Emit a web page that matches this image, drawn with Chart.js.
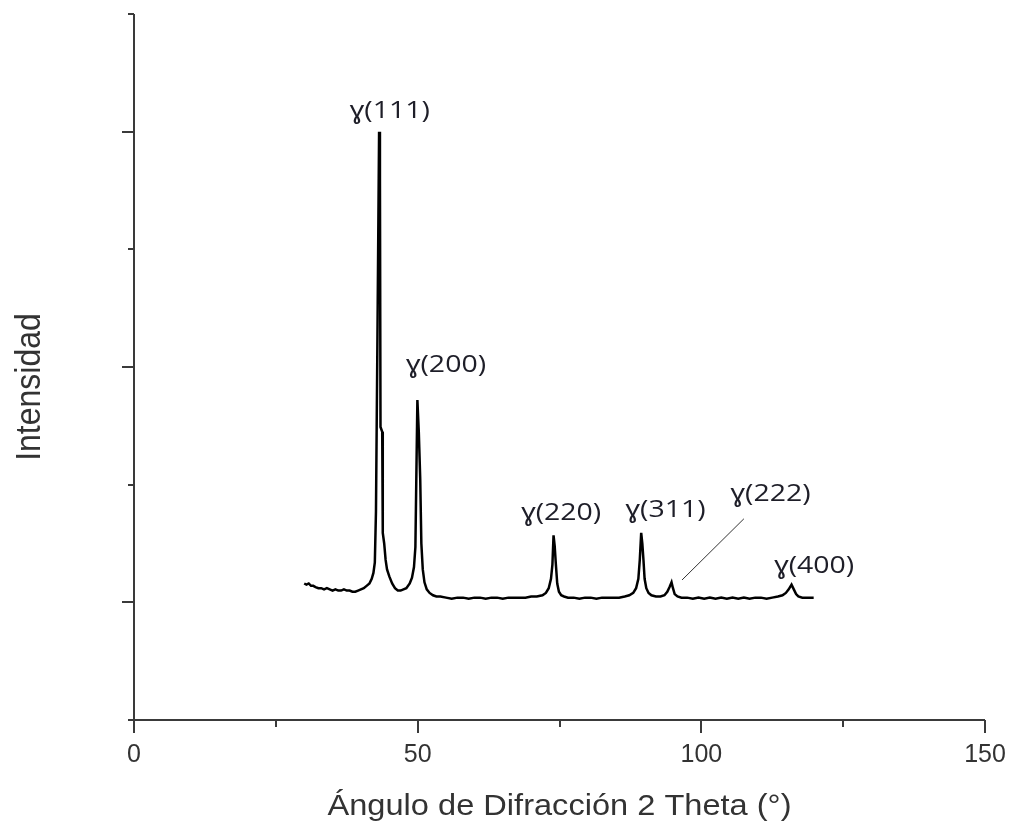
<!DOCTYPE html>
<html>
<head>
<meta charset="utf-8">
<script src="https://cdn.jsdelivr.net/npm/chart.js@4/dist/chart.umd.min.js"></script>
<style>
html,body{margin:0;padding:0;background:#ffffff;}
#wrap{width:1009px;height:825px;position:relative;}
</style>
</head>
<body>
<div id="wrap"><canvas id="c" width="1009" height="825"></canvas></div>
<script>
// ---- data ----
const angles = [
  30.0,30.4,30.8,31.2,31.6,32.0,32.5,33.0,33.5,34.0,34.5,35.0,35.5,36.0,36.5,37.0,37.5,38.0,38.5,39.0,39.5,40.0,40.5,41.0,41.5,41.9,42.2,42.45,42.65,42.9,43.2,43.35,43.45,43.75,43.85,44.1,44.35,44.6,45.0,45.5,46.0,46.5,47.0,47.5,48.0,48.6,49.0,49.35,49.6,49.75,49.95,50.2,50.45,50.65,50.9,51.2,51.6,52.1,52.7,53.3,54.0,55.0,56.0,57.0,58.0,59.0,60.0,61.0,62.0,63.0,64.0,65.0,66.0,67.0,68.0,69.0,70.0,71.0,72.0,72.6,73.1,73.5,73.75,73.95,74.15,74.35,74.6,74.9,75.3,75.8,76.5,77.5,78.5,79.5,80.5,81.5,82.5,83.5,84.5,85.5,86.5,87.3,88.0,88.5,88.9,89.15,89.4,89.6,89.8,90.0,90.3,90.7,91.2,92.0,92.8,93.5,94.0,94.4,94.75,95.0,95.3,95.8,96.5,97.5,98.5,99.5,100.5,101.5,102.5,103.5,104.5,105.5,106.5,107.5,108.5,109.5,110.5,111.5,112.5,113.5,114.3,114.9,115.4,115.9,116.3,116.7,117.1,117.8,118.5,119.2,119.8
];
const intensity = [
  1.16,1.15,1.16,1.14,1.14,1.13,1.12,1.12,1.11,1.12,1.11,1.10,1.11,1.10,1.10,1.11,1.10,1.10,1.09,1.09,1.10,1.11,1.12,1.14,1.16,1.20,1.25,1.34,1.77,3.20,5.00,4.60,2.49,2.45,1.59,1.50,1.36,1.28,1.22,1.16,1.12,1.10,1.10,1.11,1.12,1.16,1.21,1.30,1.47,2.01,2.72,2.45,2.05,1.50,1.28,1.17,1.11,1.08,1.06,1.05,1.05,1.04,1.03,1.04,1.04,1.03,1.04,1.04,1.03,1.04,1.04,1.03,1.04,1.04,1.04,1.04,1.05,1.05,1.06,1.08,1.12,1.20,1.32,1.57,1.48,1.33,1.16,1.09,1.06,1.05,1.04,1.04,1.03,1.04,1.04,1.03,1.04,1.04,1.04,1.04,1.05,1.06,1.08,1.12,1.20,1.36,1.59,1.50,1.36,1.20,1.12,1.08,1.06,1.05,1.05,1.06,1.09,1.13,1.17,1.12,1.07,1.05,1.04,1.04,1.03,1.04,1.03,1.04,1.03,1.04,1.03,1.04,1.03,1.04,1.03,1.04,1.04,1.03,1.04,1.05,1.06,1.08,1.11,1.15,1.11,1.07,1.05,1.04,1.04,1.04,1.04
];
const peakLabels = ['\u0263(111)','\u0263(200)','\u0263(220)','\u0263(311)','\u0263(222)','\u0263(400)'];
const peakLabelX = [45.1, 55.0, 75.3, 93.7, 112.2, 119.9];
const peakLabelY = [5.12, 2.96, 1.70, 1.725, 1.86, 1.25];
const leaderFrom = [96.6, 1.19];
const leaderTo = [107.5, 1.71];
const xMajorTicks = [0, 50, 100, 150];
const xMinorTicks = [25, 75, 125];
const yMajorTicks = [1, 3, 5];
const yMinorTicks = [0, 2, 4, 6];
const xTitle = '\u00C1ngulo de Difracci\u00F3n 2 Theta (\u00B0)';
const yTitle = 'Intensidad';

const points = angles.map((a, i) => ({x: a, y: intensity[i]}));

const decor = {
  id: 'decor',
  afterDraw(chart) {
    const {ctx, chartArea: a, scales: {x, y}} = chart;
    ctx.save();
    // axes and ticks
    ctx.strokeStyle = '#3a3a3a';
    ctx.lineWidth = 2;
    ctx.beginPath();
    ctx.moveTo(a.left, y.getPixelForValue(6));
    ctx.lineTo(a.left, a.bottom);
    ctx.moveTo(a.left, a.bottom);
    ctx.lineTo(a.right, a.bottom);
    xMajorTicks.forEach(v => { const p = Math.round(x.getPixelForValue(v)); ctx.moveTo(p, a.bottom); ctx.lineTo(p, a.bottom + 13); });
    xMinorTicks.forEach(v => { const p = Math.round(x.getPixelForValue(v)); ctx.moveTo(p, a.bottom); ctx.lineTo(p, a.bottom + 7); });
    yMajorTicks.forEach(v => { const p = Math.round(y.getPixelForValue(v)); ctx.moveTo(a.left - 12, p); ctx.lineTo(a.left, p); });
    yMinorTicks.forEach(v => { const p = Math.round(y.getPixelForValue(v)); ctx.moveTo(a.left - 6, p); ctx.lineTo(a.left, p); });
    ctx.stroke();

    // leader line for (222)
    ctx.strokeStyle = '#333333';
    ctx.lineWidth = 1;
    ctx.beginPath();
    ctx.moveTo(x.getPixelForValue(leaderFrom[0]), y.getPixelForValue(leaderFrom[1]));
    ctx.lineTo(x.getPixelForValue(leaderTo[0]), y.getPixelForValue(leaderTo[1]));
    ctx.stroke();

    // peak labels
    ctx.fillStyle = '#1e1e28';
    ctx.font = '23px "Open Sans", "Noto Sans", sans-serif';
    ctx.textAlign = 'center';
    ctx.textBaseline = 'alphabetic';
    peakLabels.forEach((t, i) => {
      const px = x.getPixelForValue(peakLabelX[i]);
      const py = y.getPixelForValue(peakLabelY[i]);
      const w = ctx.measureText(t).width;
      const sx = 80 / w;
      ctx.save();
      ctx.translate(px, py);
      ctx.scale(sx, 1);
      ctx.fillText(t, 0, 0);
      ctx.restore();
    });

    // x axis title
    ctx.fillStyle = '#333333';
    ctx.font = '30px "Liberation Sans", Arial, sans-serif';
    ctx.textAlign = 'center';
    ctx.textBaseline = 'alphabetic';
    {
      const w = ctx.measureText(xTitle).width;
      const sx = 464 / w;
      ctx.save();
      ctx.translate((a.left + a.right) / 2, 815);
      ctx.scale(sx, 1);
      ctx.fillText(xTitle, 0, 0);
      ctx.restore();
    }
    // y axis title
    ctx.font = '32px "Liberation Sans", Arial, sans-serif';
    {
      ctx.save();
      ctx.translate(40, 387);
      ctx.rotate(-Math.PI / 2);
      ctx.scale(1, 1.12);
      ctx.fillText(yTitle, 0, 0);
      ctx.restore();
    }
    ctx.restore();
  }
};

new Chart(document.getElementById('c'), {
  type: 'line',
  data: {
    datasets: [{
      data: points,
      borderColor: '#000000',
      borderWidth: 2.5,
      pointRadius: 0,
      tension: 0,
      fill: false
    }]
  },
  options: {
    responsive: false,
    animation: false,
    devicePixelRatio: 1,
    layout: {padding: {left: 0, right: 24, top: 14, bottom: 0}},
    plugins: {legend: {display: false}, tooltip: {enabled: false}},
    scales: {
      x: {
        type: 'linear',
        min: 0, max: 150,
        afterBuildTicks: s => { s.ticks = xMajorTicks.map(v => ({value: v})); },
        afterFit: s => { s.height = 105; s.paddingLeft = 0; s.paddingRight = 0; },
        grid: {display: false, drawTicks: false},
        border: {display: false},
        ticks: {
          color: '#333333',
          font: {family: '"Liberation Sans", Arial, sans-serif', size: 25},
          padding: 20,
          maxRotation: 0
        },
        title: {display: false}
      },
      y: {
        type: 'linear',
        min: 0, max: 6,
        afterFit: s => { s.width = 134; },
        grid: {display: false, drawTicks: false},
        border: {display: false},
        ticks: {display: false},
        title: {display: false}
      }
    }
  },
  plugins: [decor]
});
</script>
</body>
</html>
